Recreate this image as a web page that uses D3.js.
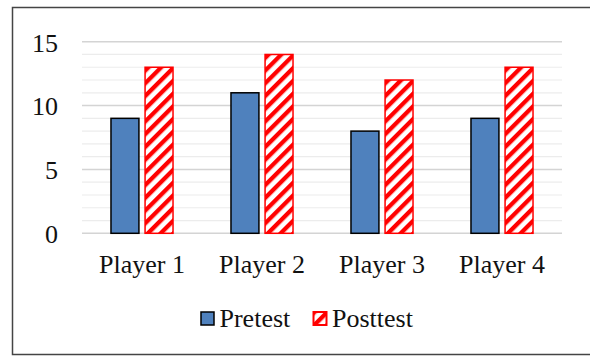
<!DOCTYPE html>
<html>
<head>
<meta charset="utf-8">
<script src="https://cdn.jsdelivr.net/npm/d3@7/dist/d3.min.js"></script>
<style>
  html, body { margin: 0; padding: 0; background: #fff; }
  svg { display: block; }
</style>
</head>
<body>
<svg id="chart" width="590" height="356"></svg>
<script>
// Scores per player before and after training
const players = ["Player 1", "Player 2", "Player 3", "Player 4"];
const seriesNames = ["Pretest", "Posttest"];
const pretest = [9, 11, 8, 9];
const posttest = [13, 14, 12, 13];
const yTicks = [0, 5, 10, 15];

const FONT = "'Liberation Serif'";
const FONT_SIZE = 26;
const svg = d3.select("#chart");
const W = 590;
const plot = { left: 82, right: 562, top: 41.7, bottom: 233.3 };

// outer frame (open on the right, as it runs off the page)
svg.append("path")
  .attr("d", `M${W},7.5 H12.5 V354.5 H${W}`)
  .attr("fill", "none")
  .attr("stroke", "#444")
  .attr("stroke-width", 1.5);

// hatched fill for the posttest bars
const defs = svg.append("defs");
const pat = defs.append("pattern")
  .attr("id", "hatch")
  .attr("patternUnits", "userSpaceOnUse")
  .attr("width", 9).attr("height", 9)
  .attr("patternTransform", "rotate(45)");
pat.append("rect").attr("width", 9).attr("height", 9).attr("fill", "#fff");
pat.append("rect").attr("x", 0).attr("width", 4.3).attr("height", 9).attr("fill", "#ff0000");

const y = d3.scaleLinear().domain([0, 15]).range([plot.bottom, plot.top]);
const x0 = d3.scaleBand().domain(players).range([plot.left, plot.right])
  .paddingInner(0.483).paddingOuter(0.2415);
const x1 = d3.scaleBand().domain(seriesNames).range([0, x0.bandwidth()]).paddingInner(0.18);

// minor gridlines every unit
const grid = svg.append("g");
grid.selectAll("line.minor")
  .data(d3.range(1, 16).filter(v => v % 5 !== 0))
  .join("line")
  .attr("x1", plot.left).attr("x2", plot.right)
  .attr("y1", d => y(d)).attr("y2", d => y(d))
  .attr("stroke", "#ececec").attr("stroke-width", 1.2);
// major gridlines at labelled ticks
grid.selectAll("line.major")
  .data(yTicks)
  .join("line")
  .attr("x1", plot.left).attr("x2", plot.right)
  .attr("y1", d => y(d)).attr("y2", d => y(d))
  .attr("stroke", "#d4d4d4").attr("stroke-width", 1.5);

// y axis labels
const yAxis = d3.axisLeft(y).tickValues(yTicks).tickSize(0).tickPadding(0).tickFormat(d3.format("d"));
svg.append("g")
  .attr("transform", "translate(58,0)")
  .call(yAxis)
  .attr("font-family", null)
  .call(g => g.select(".domain").remove())
  .call(g => g.selectAll("text")
    .style("font-family", FONT)
    .style("font-size", FONT_SIZE + "px")
    .attr("fill", "#111")
    .attr("dy", "0.36em"));

// x axis labels
const xAxis = d3.axisBottom(x0).tickSize(0).tickPadding(0);
svg.append("g")
  .attr("transform", `translate(0,${plot.bottom})`)
  .call(xAxis)
  .attr("font-family", null)
  .call(g => g.select(".domain").remove())
  .call(g => g.selectAll("text")
    .style("font-family", FONT)
    .style("font-size", FONT_SIZE + "px")
    .attr("fill", "#111")
    .attr("y", 39.5)
    .attr("dy", 0));

// bars
const data = players.map((p, i) => ({ player: p, values: [
  { key: "Pretest", value: pretest[i] },
  { key: "Posttest", value: posttest[i] }
]}));

const groups = svg.append("g").selectAll("g")
  .data(data)
  .join("g")
  .attr("transform", d => `translate(${x0(d.player)},0)`);

groups.selectAll("rect")
  .data(d => d.values)
  .join("rect")
  .attr("x", d => x1(d.key))
  .attr("width", x1.bandwidth())
  .attr("y", d => y(d.value))
  .attr("height", d => y(0) - y(d.value))
  .attr("fill", d => d.key === "Pretest" ? "#4f81bd" : "url(#hatch)")
  .attr("stroke", d => d.key === "Pretest" ? "#000" : "#ff0000")
  .attr("stroke-width", 1.5);

// legend
const legendItems = [
  { key: "Pretest", x: 201 },
  { key: "Posttest", x: 313.5 }
];
const legend = svg.append("g");
legendItems.forEach(it => {
  legend.append("rect")
    .attr("x", it.x).attr("y", 312)
    .attr("width", 13).attr("height", 13)
    .attr("fill", it.key === "Pretest" ? "#4f81bd" : "url(#hatch)")
    .attr("stroke", it.key === "Pretest" ? "#000" : "#ff0000")
    .attr("stroke-width", it.key === "Pretest" ? 1.5 : 2);
  legend.append("text")
    .attr("x", it.x + 18.5).attr("y", 327)
    .style("font-family", FONT)
    .style("font-size", FONT_SIZE + "px")
    .attr("fill", "#111")
    .text(it.key);
});
</script>
</body>
</html>
